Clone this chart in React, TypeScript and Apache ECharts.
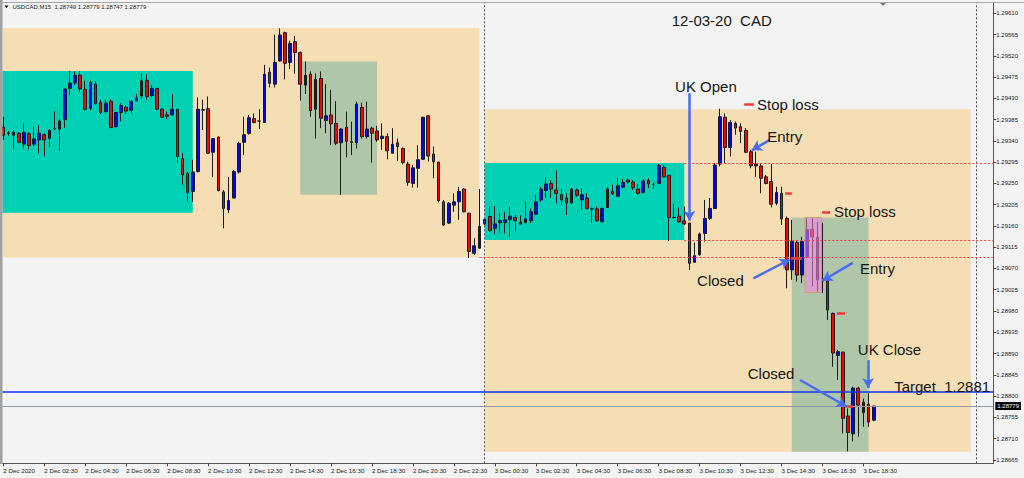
import React, { useEffect, useRef } from "react";
import * as echarts from "echarts";

// USDCAD M15 candles, [open, high, low, close]
const dec2Candles: number[][] = [
  [1.29369, 1.29391, 1.29342, 1.29352], [1.29356, 1.29361, 1.29351, 1.29357], [1.29352, 1.29363, 1.29324, 1.29358],
  [1.29356, 1.29358, 1.29336, 1.29337], [1.29333, 1.29377, 1.29324, 1.29358], [1.29355, 1.29358, 1.29322, 1.2933],
  [1.29333, 1.2937, 1.29329, 1.29344], [1.29342, 1.29373, 1.29314, 1.29356], [1.29353, 1.29356, 1.29307, 1.29342],
  [1.29345, 1.29365, 1.29326, 1.29362], [1.29366, 1.29403, 1.29363, 1.29365], [1.29365, 1.29386, 1.29319, 1.29382],
  [1.29385, 1.2945, 1.29368, 1.2945], [1.29451, 1.29488, 1.29436, 1.29462], [1.29463, 1.29487, 1.29458, 1.29479],
  [1.29479, 1.29488, 1.29443, 1.2945], [1.29449, 1.29467, 1.29404, 1.29407], [1.29409, 1.29467, 1.29405, 1.29464],
  [1.2946, 1.29467, 1.29416, 1.29419], [1.29421, 1.29427, 1.29397, 1.294], [1.29402, 1.29428, 1.294, 1.2942],
  [1.29424, 1.29428, 1.29367, 1.29368], [1.2937, 1.294, 1.29369, 1.294], [1.294, 1.2942, 1.29381, 1.29415],
  [1.29411, 1.29416, 1.29396, 1.29403], [1.29405, 1.29427, 1.29397, 1.29423], [1.29425, 1.29439, 1.29425, 1.29431],
  [1.29435, 1.29483, 1.29427, 1.29467], [1.29468, 1.29481, 1.29427, 1.29434], [1.29436, 1.29458, 1.29432, 1.29451],
  [1.29451, 1.29451, 1.29405, 1.29407], [1.29407, 1.29409, 1.29388, 1.2939], [1.29395, 1.29402, 1.29386, 1.29392],
  [1.29395, 1.29439, 1.29393, 1.29407], [1.29407, 1.29407, 1.29293, 1.29307], [1.29303, 1.29314, 1.29247, 1.29268],
  [1.29271, 1.29275, 1.29211, 1.29231], [1.29233, 1.293, 1.29211, 1.29274], [1.29275, 1.29432, 1.29273, 1.29407],
  [1.29406, 1.29427, 1.29363, 1.29405], [1.29408, 1.29434, 1.29312, 1.29314], [1.29316, 1.29346, 1.29263, 1.29345],
  [1.29348, 1.29349, 1.29233, 1.29235], [1.29232, 1.29236, 1.29155, 1.29197], [1.29194, 1.29264, 1.29187, 1.29214],
  [1.29219, 1.29278, 1.29218, 1.29275], [1.29274, 1.29338, 1.29271, 1.29335], [1.29337, 1.29391, 1.2931, 1.29353],
  [1.29356, 1.29395, 1.29353, 1.29389], [1.29387, 1.29398, 1.29377, 1.29379], [1.29382, 1.29407, 1.29365, 1.29382],
  [1.29379, 1.29501, 1.29378, 1.29481], [1.29485, 1.29495, 1.29453, 1.29462], [1.2946, 1.29565, 1.29453, 1.29506],
  [1.29509, 1.29578, 1.29508, 1.29564], [1.29569, 1.29571, 1.2947, 1.29504], [1.29506, 1.29552, 1.29492, 1.29546],
  [1.2955, 1.29562, 1.29482, 1.29527], [1.29527, 1.29529, 1.29425, 1.2946], [1.29458, 1.29508, 1.29439, 1.29479],
  [1.29481, 1.29487, 1.29391, 1.29404], [1.29407, 1.29483, 1.29345, 1.2947], [1.29472, 1.29487, 1.29367, 1.29388],
  [1.29383, 1.2946, 1.29356, 1.29393], [1.29395, 1.29448, 1.29331, 1.29376], [1.29377, 1.29424, 1.29331, 1.29335],
  [1.29336, 1.29367, 1.29226, 1.29365], [1.29369, 1.29402, 1.29305, 1.29339], [1.29338, 1.29381, 1.2931, 1.29337],
  [1.29336, 1.29423, 1.29324, 1.29418], [1.29411, 1.29421, 1.29345, 1.29349], [1.29349, 1.29423, 1.29345, 1.29365],
  [1.29367, 1.2937, 1.29294, 1.29356], [1.29361, 1.29372, 1.29338, 1.29342], [1.29345, 1.29377, 1.29321, 1.2935],
  [1.29349, 1.29356, 1.29301, 1.29319], [1.29314, 1.29367, 1.29313, 1.29333], [1.29336, 1.29345, 1.29298, 1.29328],
  [1.29324, 1.29326, 1.2929, 1.29294], [1.29291, 1.29296, 1.29245, 1.29252], [1.2925, 1.29289, 1.29241, 1.29283],
  [1.29282, 1.29331, 1.29241, 1.293], [1.29301, 1.29391, 1.293, 1.2939], [1.29393, 1.29395, 1.29296, 1.29308],
  [1.29312, 1.29328, 1.29261, 1.29296], [1.29295, 1.29296, 1.2921, 1.29213], [1.29211, 1.29215, 1.2916, 1.29162],
  [1.29166, 1.29211, 1.29164, 1.29208], [1.29204, 1.29229, 1.2919, 1.29211], [1.29211, 1.29243, 1.29173, 1.29233],
  [1.29238, 1.2924, 1.29189, 1.2919], [1.29187, 1.29188, 1.29092, 1.29106], [1.29102, 1.29134, 1.29099, 1.29118],
  [1.29113, 1.29238, 1.29111, 1.29159],
];

const dec3Candles: number[][] = [
  [1.29164, 1.29176, 1.29162, 1.29174], [1.2918, 1.29202, 1.29148, 1.2915], [1.29155, 1.29202, 1.29143, 1.29164],
  [1.29167, 1.29187, 1.29146, 1.29171], [1.29167, 1.2919, 1.29144, 1.29173], [1.29174, 1.29201, 1.29137, 1.29181],
  [1.29178, 1.29183, 1.29148, 1.29171], [1.29168, 1.29183, 1.29162, 1.29164], [1.29167, 1.29211, 1.29166, 1.29175],
  [1.29171, 1.29197, 1.29166, 1.2919], [1.29185, 1.29226, 1.29183, 1.29211], [1.29215, 1.29243, 1.29211, 1.29238],
  [1.29235, 1.29263, 1.29219, 1.29249], [1.2925, 1.29257, 1.29219, 1.29238], [1.29236, 1.29277, 1.29208, 1.29229],
  [1.29226, 1.29239, 1.29204, 1.29215], [1.29219, 1.29229, 1.29183, 1.29209], [1.29209, 1.2924, 1.29207, 1.29238],
  [1.29236, 1.29239, 1.29222, 1.29225], [1.29215, 1.2924, 1.29194, 1.29226], [1.29219, 1.29229, 1.29195, 1.29197],
  [1.29196, 1.29199, 1.29166, 1.29196], [1.29196, 1.29201, 1.29169, 1.29171], [1.29169, 1.29199, 1.29167, 1.29197],
  [1.29199, 1.29243, 1.29199, 1.29238], [1.29233, 1.29247, 1.29226, 1.29228], [1.29223, 1.29261, 1.29221, 1.29245],
  [1.29242, 1.29259, 1.2924, 1.29252], [1.29257, 1.29261, 1.29249, 1.29253], [1.29253, 1.29257, 1.29236, 1.29241],
  [1.29238, 1.29248, 1.29226, 1.29229], [1.29231, 1.29259, 1.29229, 1.29255], [1.29256, 1.29261, 1.2924, 1.29249],
  [1.29248, 1.29252, 1.29238, 1.29248], [1.2925, 1.29291, 1.29249, 1.29288], [1.29284, 1.29289, 1.29263, 1.29264],
  [1.29267, 1.29268, 1.29128, 1.29178], [1.29178, 1.29207, 1.29174, 1.29178], [1.29181, 1.29199, 1.29167, 1.29169],
  [1.29171, 1.29201, 1.29162, 1.29164], [1.29166, 1.29167, 1.29067, 1.29081], [1.29083, 1.29125, 1.29082, 1.29097],
  [1.29099, 1.29146, 1.29097, 1.29143], [1.29144, 1.29215, 1.29127, 1.29176], [1.29176, 1.29219, 1.29173, 1.29197],
  [1.29197, 1.29293, 1.29196, 1.29289], [1.29291, 1.29408, 1.29286, 1.29391], [1.2939, 1.29398, 1.29293, 1.29326],
  [1.29326, 1.29384, 1.29307, 1.29379], [1.29377, 1.29381, 1.29353, 1.29367], [1.2937, 1.29377, 1.29335, 1.2936],
  [1.29362, 1.29367, 1.29314, 1.29316], [1.29317, 1.29321, 1.29282, 1.29287], [1.29291, 1.29317, 1.29264, 1.29287],
  [1.29287, 1.29293, 1.29229, 1.29261], [1.29264, 1.29268, 1.29248, 1.2925], [1.29254, 1.29291, 1.29199, 1.29206],
  [1.29208, 1.29243, 1.29204, 1.29231], [1.29229, 1.29243, 1.29162, 1.29175], [1.29176, 1.2918, 1.29028, 1.29067],
  [1.29067, 1.29173, 1.29046, 1.29127], [1.29125, 1.2913, 1.29042, 1.29056], [1.29056, 1.29137, 1.29039, 1.29127],
  [1.29095, 1.29176, 1.29092, 1.29152], [1.29153, 1.29176, 1.29032, 1.29137], [1.29136, 1.29169, 1.29021, 1.29046],
  [1.29048, 1.29167, 1.29018, 1.29044], [1.29044, 1.29046, 1.28961, 1.28982], [1.28975, 1.28977, 1.28862, 1.28891],
  [1.28886, 1.28898, 1.28834, 1.28894], [1.28893, 1.28894, 1.28721, 1.28753], [1.28758, 1.28774, 1.28683, 1.28723],
  [1.2872, 1.2882, 1.28704, 1.28817], [1.28817, 1.2882, 1.28714, 1.28781], [1.28765, 1.28795, 1.28735, 1.28787],
  [1.28783, 1.28806, 1.28735, 1.28745], [1.28749, 1.28779, 1.28747, 1.28779],
];

// time axis (bar index -> label), 15-minute bars from 2 Dec 00:30
const timeTickBars = [0, 8, 16, 24, 32, 40, 48, 56, 64, 72, 80, 88, 96, 104, 112, 120, 128, 136, 144, 152, 160, 168];
const timeTickLabels = [
  "2 Dec 2020", "2 Dec 02:30", "2 Dec 04:30", "2 Dec 06:30", "2 Dec 08:30", "2 Dec 10:30", "2 Dec 12:30",
  "2 Dec 14:30", "2 Dec 16:30", "2 Dec 18:30", "2 Dec 20:30", "2 Dec 22:30", "3 Dec 00:30", "3 Dec 02:30",
  "3 Dec 04:30", "3 Dec 06:30", "3 Dec 08:30", "3 Dec 10:30", "3 Dec 12:30", "3 Dec 14:30", "3 Dec 16:30", "3 Dec 18:30",
];
const priceTicks = [
  1.28665, 1.2871, 1.28755, 1.288, 1.28845, 1.2889, 1.28935, 1.2898, 1.29025, 1.2907, 1.29115,
  1.2916, 1.29205, 1.2925, 1.29295, 1.2934, 1.29385, 1.2943, 1.29475, 1.2952, 1.29565, 1.2961,
];

// shaded session boxes: bar range and price range
const zoneStartBar = [-3, 94, -3, 94, 58, 154];
const zoneEndBar = [93, 189, 37, 133, 73, 169];
const zoneHigh = [1.29579, 1.29407, 1.29488, 1.29293, 1.29508, 1.29178];
const zoneLow = [1.29093, 1.28682, 1.29188, 1.2913, 1.29226, 1.28682];

const highlightBox = [156.6, 159.8, 1.29178, 1.29019];

// red dotted levels (from bar to right edge)
const levelStartBar = [133, 133, 93];
const levelPrice = [1.29293, 1.2913, 1.29094];
const separatorBars = [94, 190];
const targetPrice = 1.2881;
const bidPrice = 1.28779;

// short red trade marks
const markStartBar = [144.7, 152.7, 159.9, 162.8, 153.8, 164.4];
const markEndBar = [146.6, 154.0, 161.5, 164.4, 156.0, 166.0];
const markPrice = [1.29418, 1.2923, 1.2919, 1.28975, 1.29092, 1.28779];

// annotation arrows
const arrowFromBar = [134.0, 149.7, 146.5, 165.9, 168.9, 155.6];
const arrowFromPrice = [1.29441, 1.29342, 1.29049, 1.29082, 1.28876, 1.28834];
const arrowToBar = [134.0, 146.2, 153.6, 160.0, 168.9, 164.7];
const arrowToPrice = [1.29171, 1.2932, 1.29089, 1.29044, 1.28817, 1.28778];

// annotation texts (left edge / vertical middle anchor)
const noteTexts = ["12-03-20  CAD", "UK Open", "Stop loss", "Entry", "Stop loss", "Closed", "Entry", "UK Close", "Closed", "Target  1.2881"];
const noteBars = [130.55, 131.2, 147.2, 149.2, 162.25, 135.5, 167.3, 166.9, 145.4, 174.0];
const notePrices = [1.29594, 1.29456, 1.29418, 1.2935, 1.2919, 1.29044, 1.29071, 1.28898, 1.28847, 1.28821];

const headerText = "USDCAD,M15  1.28749 1.28779 1.28747 1.28779";

const X_MIN = -0.16;
const X_MAX = 193.36;
const Y_MIN = 1.2865776;
const Y_MAX = 1.2963175;

const zoneColors = ["#F5DEB3", "#F5DEB3", "#00D0B4", "#00D0B4", "#AFC6A9", "#AFC6A9"];
const FONT = "'Liberation Sans', Arial, sans-serif";

export default function App() {
  const ref = useRef<HTMLDivElement>(null);

  useEffect(() => {
    if (!ref.current) return;
    const chart = echarts.init(ref.current, undefined, { renderer: "svg" });

    const candles = [...dec2Candles, ...dec3Candles];
    const candleData = candles.map((c, i) => [i, c[0], c[3], c[2], c[1]]);
    const zoneData = zoneStartBar.map((s, i) => [s, zoneEndBar[i], zoneHigh[i], zoneLow[i]]);

    const rectItem = (params: any, api: any, style: any) => {
      const p1 = api.coord([api.value(0), api.value(2)]);
      const p2 = api.coord([api.value(1), api.value(3)]);
      const cs = params.coordSys;
      const shape = echarts.graphic.clipRectByRect(
        { x: p1[0], y: p1[1], width: p2[0] - p1[0], height: p2[1] - p1[1] },
        { x: cs.x, y: cs.y, width: cs.width, height: cs.height }
      );
      return shape ? { type: "rect", shape, style } : null;
    };

    const lineData: any[] = [];
    separatorBars.forEach((b) =>
      lineData.push([
        { coord: [b, Y_MIN], lineStyle: { type: [2, 2], color: "#555", width: 1 } },
        { coord: [b, Y_MAX] },
      ])
    );
    levelStartBar.forEach((b, i) =>
      lineData.push([
        { coord: [b, levelPrice[i]], lineStyle: { type: [2, 2], color: "#F04040", width: 1 } },
        { coord: [X_MAX, levelPrice[i]] },
      ])
    );
    lineData.push([
      { coord: [X_MIN, targetPrice], lineStyle: { type: "solid", color: "#1030F0", width: 1.6 } },
      { coord: [X_MAX, targetPrice] },
    ]);
    lineData.push([
      { coord: [X_MIN, bidPrice], lineStyle: { type: "solid", color: "#8C9AA8", width: 1 } },
      {
        coord: [X_MAX, bidPrice],
        label: {
          show: true, position: "end", formatter: "1.28779", distance: 2,
          backgroundColor: "#000", color: "#fff", fontSize: 6, fontFamily: FONT, padding: [1, 2],
        },
      },
    ]);
    markStartBar.forEach((s, i) =>
      lineData.push([
        { coord: [s, markPrice[i]], lineStyle: { type: "solid", color: "#F03A3A", width: 2.5 } },
        { coord: [markEndBar[i], markPrice[i]] },
      ])
    );
    arrowFromBar.forEach((b, i) =>
      lineData.push([
        { coord: [b, arrowFromPrice[i]], symbol: "none", lineStyle: { type: "solid", color: "#4A6CF0", width: 2.5 } },
        { coord: [arrowToBar[i], arrowToPrice[i]], symbol: "arrow", symbolSize: [9, 10] },
      ])
    );

    const option: any = {
      animation: false,
      backgroundColor: "#F3F3F3",
      grid: { left: 2.5, right: 30.7, top: 3, bottom: 14.7, show: false },
      xAxis: {
        type: "value",
        min: X_MIN,
        max: X_MAX,
        position: "bottom",
        splitLine: { show: false },
        axisLine: { show: true, onZero: false, lineStyle: { color: "#555", width: 1 } },
        axisTick: { show: true, length: 3, customValues: timeTickBars, lineStyle: { color: "#444" } },
        axisLabel: {
          show: true,
          customValues: timeTickBars,
          align: "left",
          margin: 4,
          fontSize: 6.2,
          fontFamily: FONT,
          color: "#222",
          formatter: (v: number) => {
            const k = timeTickBars.indexOf(Math.round(v));
            return k >= 0 ? timeTickLabels[k] : "";
          },
        },
      },
      yAxis: {
        type: "value",
        position: "right",
        min: Y_MIN,
        max: Y_MAX,
        scale: true,
        splitLine: { show: false },
        axisLine: { show: true, onZero: false, lineStyle: { color: "#555", width: 1 } },
        axisTick: { show: true, length: 3, customValues: priceTicks, lineStyle: { color: "#444" } },
        axisLabel: {
          show: true,
          customValues: priceTicks,
          margin: 3,
          fontSize: 6,
          fontFamily: FONT,
          color: "#222",
          formatter: (v: number) => v.toFixed(5),
        },
      },
      series: [
        {
          type: "custom",
          name: "zones",
          z: 1,
          silent: true,
          encode: { x: [0, 1], y: [2, 3] },
          data: zoneData,
          renderItem: (params: any, api: any) =>
            rectItem(params, api, { fill: zoneColors[params.dataIndex] }),
        },
        {
          type: "candlestick",
          name: "USDCAD,M15",
          z: 2,
          barWidth: 3.2,
          data: candleData,
          itemStyle: {
            color: "#0000FF",
            color0: "#FF0000",
            borderColor: "#1a1a1a",
            borderColor0: "#1a1a1a",
            borderColorDoji: "#1a1a1a",
            borderWidth: 1,
          },
          markLine: {
            silent: true,
            z: 5,
            symbol: ["none", "none"],
            label: { show: false },
            emphasis: { disabled: true },
            data: lineData,
          },
        },
        {
          type: "custom",
          name: "highlight",
          z: 3,
          silent: true,
          encode: { x: [0, 1], y: [2, 3] },
          data: [highlightBox],
          renderItem: (params: any, api: any) =>
            rectItem(params, api, { fill: "rgba(248,130,235,0.55)", stroke: "#C9A36A", lineWidth: 1 }),
        },
      ],
    };

    chart.setOption(option);

    const noteGraphics = noteTexts.map((t, i) => {
      const p = chart.convertToPixel({ xAxisIndex: 0, yAxisIndex: 0 }, [noteBars[i], notePrices[i]]) as number[];
      return {
        type: "text",
        x: p[0],
        y: p[1],
        z: 100,
        style: {
          text: t,
          fontSize: 15,
          fontFamily: FONT,
          fill: "#151515",
          align: "left",
          textAlign: "left",
          verticalAlign: "middle",
          textVerticalAlign: "middle",
        },
      };
    });

    chart.setOption({
      graphic: [
        { type: "rect", z: 100, shape: { x: 0, y: 0, width: 2.5, height: 464 }, style: { fill: "#A0A0A0" } },
        { type: "rect", z: 100, shape: { x: 0, y: 2, width: 1024, height: 1 }, style: { fill: "#A8A8A8" } },
        { type: "polygon", z: 100, shape: { points: [[880, 3], [886, 3], [883, 6]] }, style: { fill: "#7A7A7A" } },
        { type: "polygon", z: 100, shape: { points: [[4.5, 5.5], [8.5, 5.5], [6.5, 8]] }, style: { fill: "#000" } },
        {
          type: "text",
          z: 100,
          x: 12.5,
          y: 7,
          style: {
            text: headerText,
            fontSize: 6,
            fontFamily: FONT,
            fill: "#222",
            align: "left",
            textAlign: "left",
            verticalAlign: "middle",
            textVerticalAlign: "middle",
          },
        },
        ...noteGraphics,
      ],
    });

    return () => chart.dispose();
  }, []);

  return (
    <div
      ref={ref}
      style={{ position: "fixed", left: 0, top: 0, width: 1024, height: 478, background: "#F3F3F3" }}
    />
  );
}
